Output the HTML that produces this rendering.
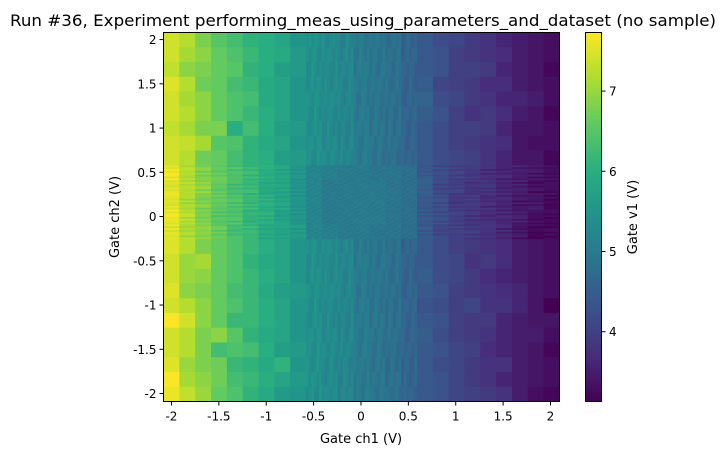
<!DOCTYPE html>
<html><head><meta charset="utf-8"><style>
body{margin:0;background:#fff;}
svg text{font-family:"DejaVu Sans","Liberation Sans",sans-serif;fill:#000;}
</style></head><body>
<svg id="chart" width="723" height="455" viewBox="0 0 723 455" xmlns="http://www.w3.org/2000/svg">
<text x="363" y="26" font-size="16" text-anchor="middle" textLength="706" lengthAdjust="spacingAndGlyphs">Run #36, Experiment performing_meas_using_parameters_and_dataset (no sample)</text>
<g id="cells"></g>
<rect x="163.5" y="32.5" width="396" height="369" fill="none" stroke="#000" stroke-width="1"/>
<g id="xticks"></g>
<g id="yticks"></g>
<text x="361" y="443" font-size="13" text-anchor="middle">Gate ch1 (V)</text>
<text transform="translate(119,217) rotate(-90)" font-size="13" text-anchor="middle">Gate ch2 (V)</text>
<defs><linearGradient id="cbg" x1="0" y1="1" x2="0" y2="0"></linearGradient></defs>
<rect x="585.5" y="32.5" width="16" height="369" fill="url(#cbg)" stroke="#000" stroke-width="1"/>
<g id="cticks"></g>
<text transform="translate(637,217) rotate(-90)" font-size="13" text-anchor="middle">Gate v1 (V)</text>
</svg>
<script>
const xTicks=[-2,-1.5,-1,-0.5,0,0.5,1,1.5,2];
const xTickLabels=["-2","-1.5","-1","-0.5","0","0.5","1","1.5","2"];
const yTicks=[2,1.5,1,0.5,0,-0.5,-1,-1.5,-2];
const yTickLabels=["2","1.5","1","0.5","0","-0.5","-1","-1.5","-2"];
const cTicks=[4,5,6,7];
const cTickLabels=["4","5","6","7"];
const xRange=[-2.084,2.095];
const yRange=[-2.09,2.08];
const vRange=[3.13,7.73];
// rows from top (y=+2) to bottom (y=-2), 25 columns each
const valueRows=[
"7.4 7.2 6.8 6.5 6.3 6.1 6.0 5.8 5.5 5.4 5.3 5.2 5.0 4.9 4.8 4.6 4.4 4.2 4.1 3.9 3.8 3.6 3.5 3.4 3.3",
"7.4 7.1 6.9 6.6 6.4 6.2 6.0 5.9 5.6 5.4 5.3 5.2 5.0 4.9 4.8 4.6 4.4 4.3 4.0 3.9 3.8 3.7 3.5 3.4 3.3",
"7.3 6.9 6.8 6.6 6.5 6.1 6.0 5.7 5.6 5.4 5.3 5.2 5.0 4.9 4.8 4.6 4.4 4.3 4.0 4.0 3.9 3.6 3.5 3.4 3.2",
"7.5 7.2 6.7 6.6 6.3 6.2 5.9 5.8 5.5 5.4 5.3 5.2 5.0 4.9 4.8 4.6 4.5 4.1 4.0 3.9 3.7 3.7 3.5 3.4 3.3",
"7.4 7.1 6.9 6.6 6.4 6.3 5.9 5.8 5.5 5.4 5.3 5.2 5.0 4.9 4.8 4.6 4.6 4.2 4.1 3.9 3.8 3.6 3.6 3.5 3.3",
"7.4 7.2 6.9 6.6 6.4 6.2 6.0 5.8 5.5 5.4 5.3 5.2 5.0 4.9 4.8 4.6 4.5 4.3 4.0 3.8 3.9 3.7 3.5 3.4 3.2",
"7.3 7.1 6.8 6.8 6.0 6.3 6.0 5.7 5.6 5.4 5.3 5.2 5.0 4.9 4.8 4.6 4.4 4.2 4.0 4.0 3.9 3.6 3.4 3.4 3.3",
"7.4 7.3 7.1 6.5 6.4 6.1 5.9 5.8 5.5 5.4 5.3 5.2 5.0 4.9 4.8 4.6 4.4 4.2 4.0 3.9 3.8 3.7 3.4 3.3 3.3",
"7.4 7.2 6.7 6.6 6.3 6.1 6.0 5.7 5.6 5.4 5.3 5.2 5.0 4.9 4.8 4.6 4.4 4.2 4.1 4.0 3.8 3.6 3.4 3.4 3.2",
"7.6 7.2 6.8 6.6 6.4 6.2 6.0 5.8 5.5 5.2 5.1 5.0 5.0 4.9 4.9 4.8 4.4 4.2 4.0 3.9 3.7 3.6 3.5 3.4 3.3",
"7.5 7.2 6.9 6.6 6.3 6.2 5.9 5.8 5.5 5.2 5.0 5.0 5.0 5.0 4.9 4.8 4.5 4.1 4.0 3.8 3.8 3.6 3.5 3.3 3.3",
"7.5 7.1 6.8 6.6 6.4 6.2 6.0 5.8 5.5 5.2 5.0 5.0 5.0 5.0 4.9 4.8 4.4 4.2 3.9 3.9 3.7 3.6 3.4 3.4 3.2",
"7.6 7.2 6.8 6.5 6.4 6.1 6.0 5.7 5.5 5.2 5.0 5.0 5.0 5.0 4.9 4.8 4.4 4.2 4.0 3.8 3.7 3.6 3.5 3.3 3.2",
"7.5 7.1 6.9 6.6 6.3 6.2 5.9 5.8 5.6 5.2 5.1 5.0 5.0 4.9 4.9 4.8 4.4 4.1 4.0 3.9 3.8 3.6 3.4 3.2 3.2",
"7.5 7.2 6.8 6.6 6.4 6.2 6.0 5.8 5.5 5.4 5.3 5.2 5.0 4.9 4.8 4.6 4.4 4.2 4.0 3.9 3.8 3.7 3.5 3.4 3.3",
"7.4 7.0 7.1 6.6 6.4 6.1 5.9 5.8 5.5 5.4 5.3 5.2 5.0 4.9 4.8 4.6 4.4 4.2 4.1 3.8 3.9 3.7 3.5 3.4 3.3",
"7.4 7.0 6.9 6.6 6.4 6.2 6.0 5.8 5.5 5.4 5.3 5.2 5.0 4.9 4.8 4.6 4.5 4.2 4.1 3.9 3.7 3.6 3.5 3.4 3.3",
"7.5 6.9 6.8 6.6 6.3 6.2 5.9 5.7 5.6 5.4 5.3 5.2 5.0 4.9 4.8 4.6 4.4 4.3 4.0 3.9 3.8 3.7 3.6 3.4 3.3",
"7.4 7.2 6.9 6.6 6.4 6.2 6.0 5.8 5.5 5.4 5.3 5.2 5.0 4.9 4.8 4.6 4.3 4.2 4.0 4.1 3.8 3.8 3.6 3.4 3.1",
"7.7 7.4 6.9 6.6 6.2 6.2 6.0 5.8 5.5 5.4 5.3 5.2 5.0 4.9 4.8 4.6 4.4 4.3 4.0 3.9 3.9 3.6 3.5 3.4 3.4",
"7.4 7.2 6.8 6.9 6.5 6.1 5.9 5.8 5.5 5.4 5.3 5.2 5.0 4.9 4.8 4.6 4.5 4.2 4.0 3.9 3.8 3.6 3.5 3.5 3.3",
"7.4 7.2 6.8 6.3 6.4 6.3 6.0 5.7 5.6 5.4 5.3 5.2 5.0 4.9 4.8 4.6 4.4 4.3 4.1 4.0 3.7 3.6 3.5 3.4 3.2",
"7.5 7.0 6.8 6.7 6.2 6.1 5.9 6.1 5.5 5.4 5.3 5.2 5.0 4.9 4.8 4.6 4.4 4.2 4.1 3.9 3.8 3.8 3.5 3.4 3.3",
"7.7 7.1 6.9 6.7 6.3 6.2 6.0 5.8 5.6 5.4 5.3 5.2 5.0 4.9 4.8 4.6 4.4 4.3 4.1 3.9 3.8 3.6 3.5 3.4 3.3",
"7.6 7.3 7.0 6.6 6.4 6.1 5.9 5.6 5.5 5.4 5.3 5.2 5.0 4.9 4.8 4.6 4.4 4.3 4.1 4.0 3.9 3.8 3.5 3.3 3.2"
];
const fineCols=[9,10,11,12,13,14,15];
const fineRows=[9,10,11,12,13];
const jitter=[0.12,-0.1,0.05,-0.15,0.08,-0.04,0.14,-0.08,0.02,-0.12,0.1,-0.02,0.06];

const PX0=163.5,PX1=559.5,PY0=32.5,PY1=401.5;
function sx(v){return PX0+(v-xRange[0])/(xRange[1]-xRange[0])*(PX1-PX0);}
function sy(v){return PY1-(v-yRange[0])/(yRange[1]-yRange[0])*(PY1-PY0);}
const VIR=["#440154","#472d7b","#3b528b","#2c728e","#21918c","#28ae80","#5ec962","#addc30","#fde725"];
function hex(h){return [1,3,5].map(i=>parseInt(h.substr(i,2),16));}
function viridis(t){t=Math.max(0,Math.min(1,t));const f=t*8,i=Math.min(7,Math.floor(f)),r=f-i;const a=hex(VIR[i]),b=hex(VIR[i+1]);return "rgb("+a.map((c,k)=>Math.round(c+(b[k]-c)*r)).join(",")+")";}
function cmap(v){return viridis((v-vRange[0])/(vRange[1]-vRange[0]));}
const NS="http://www.w3.org/2000/svg";
function mk(tag,attrs,parent){const e=document.createElementNS(NS,tag);for(const k in attrs)e.setAttribute(k,attrs[k]);parent.appendChild(e);return e;}

const grid=valueRows.map(r=>r.trim().split(/\s+/).map(Number));
const nr=grid.length,nc=grid[0].length;
const cells=document.getElementById('cells');
const cw=(xRange[1]-xRange[0])/nc, ch=(yRange[1]-yRange[0])/nr;
for(let r=0;r<nr;r++){for(let c=0;c<nc;c++){
  const x0=xRange[0]+c*cw, y1=yRange[1]-r*ch;
  const subX=fineCols.includes(c)?6:1, subY=fineRows.includes(r)?8:1;
  for(let i=0;i<subX;i++){for(let j=0;j<subY;j++){
    let v=grid[r][c];
    if(subX>1||subY>1) v+=jitter[(i*5+j*3+r*7+c*11)%jitter.length]*(subX>1&&subY>1?0.8:1);
    const xa=sx(x0+i*cw/subX), xb=sx(x0+(i+1)*cw/subX);
    const ya=sy(y1-j*ch/subY), yb=sy(y1-(j+1)*ch/subY);
    const el=mk('rect',{x:xa.toFixed(2),y:ya.toFixed(2),width:(xb-xa+0.4).toFixed(2),height:(yb-ya+0.4).toFixed(2),fill:cmap(v)},cells);
    
    
  }}
}}
const xt=document.getElementById('xticks');
xTicks.forEach((v,i)=>{const x=sx(v);
  mk('line',{x1:x,x2:x,y1:PY1,y2:PY1+4,stroke:'#000'},xt);
  const t=mk('text',{x:x,y:PY1+19,'font-size':12,'text-anchor':'middle'},xt);t.textContent=xTickLabels[i];
  
  
});
const yt=document.getElementById('yticks');
yTicks.forEach((v,i)=>{const y=sy(v);
  mk('line',{x1:PX0-4,x2:PX0,y1:y,y2:y,stroke:'#000'},yt);
  const t=mk('text',{x:PX0-7,y:y+4.5,'font-size':12,'text-anchor':'end'},yt);t.textContent=yTickLabels[i];
  
  
});
const g=document.getElementById('cbg');
for(let k=0;k<=16;k++){mk('stop',{offset:k/16,'stop-color':viridis(k/16)},g);}
const ct=document.getElementById('cticks');
cTicks.forEach((v,i)=>{const y=PY1-(v-vRange[0])/(vRange[1]-vRange[0])*(PY1-PY0);
  mk('line',{x1:601.5,x2:605.5,y1:y,y2:y,stroke:'#000'},ct);
  const t=mk('text',{x:609,y:y+4.5,'font-size':12},ct);t.textContent=cTickLabels[i];
  
  
});
</script>
</body></html>
